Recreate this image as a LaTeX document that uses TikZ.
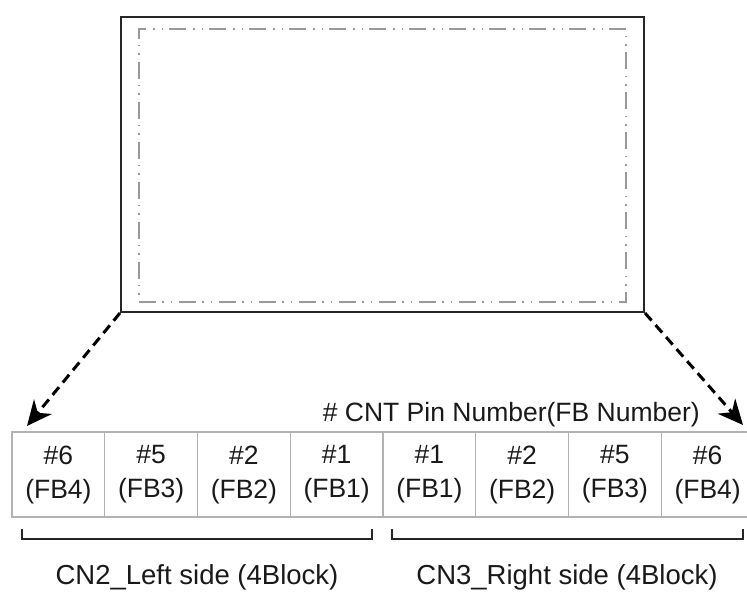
\documentclass[tikz,border=0pt]{standalone}
\usepackage{fontspec}
\setmainfont{Liberation Sans}
\usetikzlibrary{arrows.meta}

\begin{document}
\begin{tikzpicture}[
			x=1pt, y=1pt,
			panel/.style={
				rectangle,
				draw=black!85,
				line width=2pt,
				minimum width=523pt,
				minimum height=295pt,
				inner sep=0pt
			},
			area/.style={
				rectangle,
				draw=black!40,
				line width=1.5pt,
				dash pattern=on 17pt off 6pt on 1.5pt off 7pt on 1.5pt off 7pt,
				minimum width=487pt,
				minimum height=273pt,
				inner sep=0pt
			},
			cell/.style={
				rectangle,
				draw=black!30,
				line width=1.2pt,
				minimum width=92.75pt,
				minimum height=85pt,
				inner sep=0pt,
				align=center,
				text=black!90,
				font=\fontsize{26.5}{34}\selectfont
			},
			arrow/.style={-{Stealth[length=25pt,width=23pt,inset=8pt]}, line width=3pt, dash pattern=on 10pt off 6pt},
			bracket/.style={line width=2pt, black!85},
			caption/.style={text=black!90, font=\fontsize{27.5}{33}\selectfont, inner sep=0pt}
			]
			\useasboundingbox (0,0) rectangle (747,593);
			
			\node (panel) [panel] at (382.5,428.5) {};
			\node (area) [area] at (382.5,427.5) {};
			
			% pin cells, left connector then right connector
			\foreach \i/\pin/\fb in {0/6/4,1/5/3,2/2/2,3/1/1,4/1/1,5/2/2,6/5/3,7/6/4}
				\node (c\i) [cell] at ({12+92.75*(\i+0.5)},118.5) {\#\pin\\(FB\fb)};
			
			\node (pinlbl) [caption, anchor=east, font=\fontsize{26.5}{30}\selectfont] at (700,178) {\# CNT Pin Number(FB Number)};
			
			\coordinate (ltip) at (27,167);
			\coordinate (rtip) at (743,168);
			\draw [arrow] (panel.south west) -- (ltip);
			\draw [arrow] (panel.south east) -- (rtip);
			
			\draw [bracket] (22,64) -- (22,54) -- (372,54) -- (372,64);
			\draw [bracket] (392,64) -- (392,54) -- (743,54) -- (743,64);
			
			\node (cn2) [caption] at (197,16) {CN2\_Left side (4Block)};
			\node (cn3) [caption] at (567,16) {CN3\_Right side (4Block)};
			
		\end{tikzpicture}
\end{document}
